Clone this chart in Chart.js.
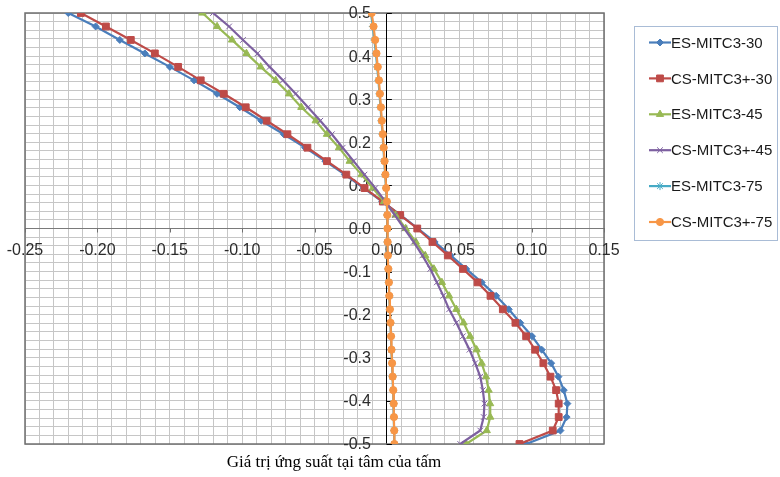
<!DOCTYPE html>
<html>
<head>
<meta charset="utf-8">
<script src="https://cdn.jsdelivr.net/npm/chart.js@4.4.1/dist/chart.umd.min.js"></script>
<style>
  html, body { margin: 0; padding: 0; background: #fff; }
  #wrap { width: 780px; height: 477px; }
</style>
</head>
<body>
<div id="wrap"><canvas id="myChart" width="780" height="477"></canvas></div>
<script>
// thickness positions through the plate (z/h)
const zLevels = [0.5, 0.46875, 0.4375, 0.40625, 0.375, 0.34375, 0.3125, 0.28125, 0.25,
  0.21875, 0.1875, 0.15625, 0.125, 0.09375, 0.0625, 0.03125, 0,
  -0.03125, -0.0625, -0.09375, -0.125, -0.15625, -0.1875, -0.21875, -0.25,
  -0.28125, -0.3125, -0.34375, -0.375, -0.40625, -0.4375, -0.46875, -0.5];

// stress values at the plate centre, one per z level
const esMitc3_30 = [-0.2201, -0.2012, -0.1845, -0.1672, -0.1499, -0.1332, -0.1173, -0.1016, -0.0868,
  -0.0712, -0.0565, -0.0425, -0.0290, -0.0160, -0.0032, 0.0095, 0.0215,
  0.0330, 0.0440, 0.0548, 0.0655, 0.0755, 0.0842, 0.0921, 0.1003,
  0.1070, 0.1135, 0.1185, 0.1222, 0.1247, 0.1242, 0.1199, 0.0962];
const csMitc3p_30 = [-0.2114, -0.1941, -0.1769, -0.1603, -0.1442, -0.1286, -0.1127, -0.0975, -0.0830,
  -0.0687, -0.0549, -0.0414, -0.0280, -0.0154, -0.0028, 0.0092, 0.0210,
  0.0315, 0.0421, 0.0525, 0.0626, 0.0716, 0.0801, 0.0888, 0.0962,
  0.1024, 0.1081, 0.1130, 0.1169, 0.1187, 0.1187, 0.1146, 0.0916];
const esMitc3_45 = [-0.1274, -0.1173, -0.1070, -0.0970, -0.0872, -0.0768, -0.0676, -0.0591, -0.0492,
  -0.0414, -0.0331, -0.0257, -0.0175, -0.0097, -0.0020, 0.0060, 0.0130,
  0.0200, 0.0265, 0.0325, 0.0380, 0.0430, 0.0480, 0.0530, 0.0575,
  0.0620, 0.0655, 0.0685, 0.0703, 0.0713, 0.0714, 0.0690, 0.0548];
const csMitc3p_45 = [-0.1201, -0.1090, -0.0994, -0.0894, -0.0810, -0.0718, -0.0630, -0.0545, -0.0460,
  -0.0380, -0.0305, -0.0230, -0.0155, -0.0080, -0.0010, 0.0055, 0.0120,
  0.0185, 0.0245, 0.0300, 0.0345, 0.0390, 0.0430, 0.0480, 0.0525,
  0.0571, 0.0610, 0.0645, 0.0663, 0.0674, 0.0669, 0.0645, 0.0507];
const esMitc3_75 = [-0.0110, -0.0097, -0.0086, -0.0076, -0.0067, -0.0058, -0.0051, -0.0044, -0.0037,
  -0.0030, -0.0024, -0.0018, -0.0012, -0.0006, -0.0001, 0.0002, 0.0003,
  0.0004, 0.0006, 0.0009, 0.0013, 0.0016, 0.0020, 0.0024, 0.0028,
  0.0031, 0.0035, 0.0039, 0.0043, 0.0046, 0.0048, 0.0050, 0.0051];
const csMitc3p_75 = [-0.0105, -0.0092, -0.0081, -0.0072, -0.0063, -0.0055, -0.0048, -0.0041, -0.0035,
  -0.0028, -0.0022, -0.0016, -0.0010, -0.0005, 0.0000, 0.0003, 0.0004,
  0.0005, 0.0007, 0.0010, 0.0014, 0.0017, 0.0021, 0.0025, 0.0029,
  0.0032, 0.0036, 0.0040, 0.0044, 0.0047, 0.0049, 0.0051, 0.0052];

const seriesNames = ['ES-MITC3-30', 'CS-MITC3+-30', 'ES-MITC3-45', 'CS-MITC3+-45', 'ES-MITC3-75', 'CS-MITC3+-75'];
const seriesValues = [esMitc3_30, csMitc3p_30, esMitc3_45, csMitc3p_45, esMitc3_75, csMitc3p_75];
const xTickLabels = ['-0.25', '-0.20', '-0.15', '-0.10', '-0.05', '0.00', '0.05', '0.10', '0.15'];
const yTickLabels = ['0.5', '0.4', '0.3', '0.2', '0.1', '0.0', '-0.1', '-0.2', '-0.3', '-0.4', '-0.5'];
const xTitle = 'Giá trị ứng suất tại tâm của tấm';

const styles = [
  { color: '#4a7ebb', point: 'rectRot', radius: 3.5, bw: 1 },
  { color: '#be4b48', point: 'rect', radius: 4.8, bw: 1 },
  { color: '#98b954', point: 'triangle', radius: 4.2, bw: 1 },
  { color: '#7d60a0', point: 'crossRot', radius: 4, bw: 1 },
  { color: '#46aac5', point: 'star', radius: 4, bw: 1 },
  { color: '#f79646', point: 'circle', radius: 3.6, bw: 1 }
];

const datasets = seriesNames.map((name, i) => ({
  label: name,
  data: seriesValues[i].map((x, k) => ({ x: x, y: zLevels[k] })),
  borderColor: styles[i].color,
  backgroundColor: styles[i].color,
  borderWidth: 2.2,
  pointStyle: styles[i].point,
  pointRadius: styles[i].radius,
  pointBorderWidth: styles[i].bw,
  pointBackgroundColor: styles[i].color,
  pointBorderColor: styles[i].color,
  tension: 0,
  fill: false,
  order: seriesNames.length - 1 - i
}));

const tickFontCss = '16px "Liberation Sans", Arial, sans-serif';

// frame around the plot, axis tick marks and the axis numbers (drawn under the lines)
const framePlugin = {
  id: 'frame',
  beforeDatasetsDraw(chart) {
    const { ctx, chartArea: a, scales } = chart;
    const y0 = scales.y.getPixelForValue(0);
    const x0 = scales.x.getPixelForValue(0);
    ctx.save();
    ctx.strokeStyle = '#6f6f6f';
    ctx.lineWidth = 1.5;
    ctx.strokeRect(a.left, a.top, a.right - a.left, a.bottom - a.top);

    ctx.lineWidth = 1;
    ctx.strokeStyle = '#707070';
    ctx.beginPath();
    xTickLabels.forEach(t => {
      const px = Math.round(scales.x.getPixelForValue(parseFloat(t))) + 0.5;
      ctx.moveTo(px, y0);
      ctx.lineTo(px, y0 + 4);
    });
    ctx.stroke();
    ctx.strokeStyle = '#000';
    ctx.beginPath();
    yTickLabels.forEach(t => {
      const py = Math.round(scales.y.getPixelForValue(parseFloat(t))) + 0.5;
      ctx.moveTo(x0, py);
      ctx.lineTo(x0 + 5, py);
    });
    ctx.stroke();

    ctx.font = tickFontCss;
    ctx.fillStyle = '#2b2b2b';
    ctx.textBaseline = 'middle';
    ctx.textAlign = 'center';
    xTickLabels.forEach(t => {
      ctx.fillText(t, scales.x.getPixelForValue(parseFloat(t)), y0 + 22);
    });
    ctx.textAlign = 'right';
    yTickLabels.forEach(t => {
      ctx.fillText(t, x0 - 16, scales.y.getPixelForValue(parseFloat(t)) + 1);
    });
    ctx.restore();
  }
};

// boxed legend with line + marker samples, and the axis caption
const legendPlugin = {
  id: 'boxLegend',
  afterDraw(chart) {
    const { ctx } = chart;
    const box = { left: 634.5, top: 26.5, w: 143, h: 214 };
    ctx.save();
    ctx.strokeStyle = '#a9bcd6';
    ctx.lineWidth = 1;
    ctx.strokeRect(box.left, box.top, box.w, box.h);
    ctx.font = '15px "Liberation Sans", Arial, sans-serif';
    ctx.textBaseline = 'middle';
    ctx.textAlign = 'left';
    seriesNames.forEach((name, i) => {
      const y = 42.5 + i * 35.9;
      const s = styles[i];
      ctx.strokeStyle = s.color;
      ctx.fillStyle = s.color;
      ctx.lineWidth = 2.2;
      ctx.beginPath();
      ctx.moveTo(649, y);
      ctx.lineTo(671, y);
      ctx.stroke();
      ctx.lineWidth = s.bw;
      Chart.helpers.drawPoint(ctx, { pointStyle: s.point, radius: s.radius, borderWidth: s.bw, rotation: 0 }, 660, y);
      ctx.fillStyle = '#1a1a1a';
      ctx.fillText(name, 671, y + 1);
    });
    ctx.font = '17px "Liberation Serif", "Times New Roman", serif';
    ctx.fillStyle = '#000';
    ctx.textAlign = 'center';
    ctx.fillText(xTitle, 334, 463);
    ctx.restore();
  }
};

new Chart(document.getElementById('myChart'), {
  type: 'line',
  data: { datasets },
  options: {
    responsive: false,
    animation: false,
    layout: { padding: { left: 25, top: 13, right: 176, bottom: 33 } },
    plugins: { legend: { display: false }, tooltip: { enabled: false } },
    scales: {
      x: {
        type: 'linear',
        position: { y: 0 },
        min: -0.25,
        max: 0.15,
        grid: { color: '#c6c6c6', lineWidth: 1, drawTicks: false },
        border: { color: '#7a7a7a', width: 1 },
        ticks: { stepSize: 0.01, autoSkip: false, maxRotation: 0, padding: 0, callback: () => '' }
      },
      y: {
        type: 'linear',
        position: { x: 0 },
        min: -0.5,
        max: 0.5,
        grid: { color: '#c6c6c6', lineWidth: 1, drawTicks: false },
        border: { color: '#000', width: 1 },
        ticks: { stepSize: 0.02, autoSkip: false, padding: 0, callback: () => '' }
      }
    }
  },
  plugins: [framePlugin, legendPlugin]
});
</script>
</body>
</html>
